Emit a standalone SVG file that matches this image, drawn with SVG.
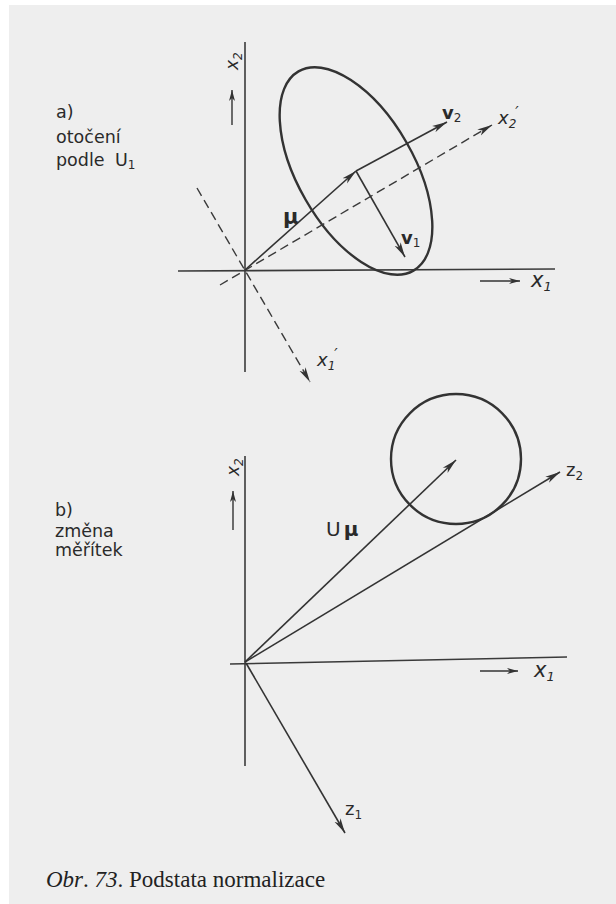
<svg xmlns="http://www.w3.org/2000/svg" width="616" height="904" viewBox="0 0 616 904">
<style>
.ax{stroke:#3a3a3a;stroke-width:1.6;fill:none}
.dash{stroke:#3a3a3a;stroke-width:1.4;fill:none;stroke-dasharray:9 5}
.vec{stroke:#333;stroke-width:1.6;fill:none;marker-end:url(#ah)}
.sm{stroke:#333;stroke-width:1.4;fill:none;marker-end:url(#sh)}
.curve{stroke:#333;stroke-width:2.4;fill:none}
.lbl{font-family:"DejaVu Sans","Liberation Sans",sans-serif;fill:#2a2a2a}
.t{font-size:17.5px}
.it{font-style:italic}
.cap{font-family:"Liberation Serif",serif;font-size:23px;fill:#222}
</style>
<defs>
<marker id="ah" markerUnits="userSpaceOnUse" markerWidth="16" markerHeight="8" refX="15" refY="4" orient="auto">
<path d="M0,0.5 L15,4 L0,7.5 L4,4 Z" fill="#333"/>
</marker>
<marker id="sh" markerUnits="userSpaceOnUse" markerWidth="12" markerHeight="7" refX="11" refY="3.5" orient="auto">
<path d="M0,0.5 L11,3.5 L0,6.5 L3,3.5 Z" fill="#333"/>
</marker>
</defs>
<rect width="616" height="904" fill="#ffffff"/>
<rect x="9" y="5" width="607" height="899" fill="#eeeeee"/>

<g id="panel-a">
  <g id="a-axes">
    <line class="ax" x1="245" y1="42" x2="245" y2="372"/>
    <line class="ax" x1="178" y1="271" x2="555" y2="269"/>
  </g>
  <g id="a-ellipse">
    <ellipse class="curve" cx="356" cy="171" rx="115" ry="58" transform="rotate(60 356 171)"/>
  </g>
  <g id="a-connectors">
    <line class="dash" x1="220" y1="285" x2="492" y2="125" marker-end="url(#ah)"/>
    <line class="dash" x1="197" y1="188" x2="310" y2="382" marker-end="url(#ah)"/>
    <line class="vec" x1="245" y1="270" x2="356" y2="171"/>
    <line class="vec" x1="356" y1="171" x2="447" y2="122"/>
    <line class="vec" x1="356" y1="171" x2="405" y2="257"/>
    <line class="sm" x1="232" y1="125" x2="232" y2="90"/>
    <line class="sm" x1="480" y1="281" x2="520" y2="281"/>
  </g>
  <g id="a-labels" class="lbl">
    <text class="t" x="56" y="118">a)</text>
    <text class="t" x="56" y="143">otočení</text>
    <text class="t" x="56" y="166">podle<tspan x="115">U</tspan><tspan font-size="12" dy="3">1</tspan></text>
    <text class="it" font-size="17" transform="translate(238 70) rotate(-90)">x<tspan font-size="12" dy="4">2</tspan></text>
    <text class="it" font-size="21" x="531" y="287">x<tspan font-size="13" dy="4">1</tspan></text>
    <text class="it" font-size="18" x="498" y="124">x<tspan font-size="12" dy="4">2</tspan><tspan font-size="15" dx="-1" dy="-10">′</tspan></text>
    <text class="it" font-size="18" x="317" y="366">x<tspan font-size="12" dy="4">1</tspan><tspan font-size="15" dx="-1" dy="-10">′</tspan></text>
    <text font-size="18" font-weight="bold" x="442" y="119">v<tspan font-size="12" font-weight="normal" dy="3">2</tspan></text>
    <text font-size="18" font-weight="bold" x="401" y="244">v<tspan font-size="12" font-weight="normal" dy="3">1</tspan></text>
    <text font-size="21" font-weight="bold" x="283" y="224">μ</text>
  </g>
</g>

<g id="panel-b">
  <g id="b-axes">
    <line class="ax" x1="245" y1="456" x2="245" y2="766"/>
    <line class="ax" x1="230" y1="664" x2="567" y2="657"/>
  </g>
  <g id="b-circle">
    <circle class="curve" cx="456" cy="459" r="65" stroke-width="2"/>
  </g>
  <g id="b-connectors">
    <line class="vec" x1="245" y1="662" x2="456" y2="460"/>
    <line class="vec" x1="245" y1="662" x2="560" y2="472"/>
    <line class="vec" x1="246" y1="663" x2="345" y2="833"/>
    <line class="sm" x1="233" y1="530" x2="233" y2="491"/>
    <line class="sm" x1="480" y1="671" x2="518" y2="671"/>
  </g>
  <g id="b-labels" class="lbl">
    <text class="t" x="55" y="516">b)</text>
    <text class="t" x="55" y="537">změna</text>
    <text class="t" x="55" y="556">měřítek</text>
    <text class="it" font-size="17" transform="translate(239 476) rotate(-90)">x<tspan font-size="12" dy="4">2</tspan></text>
    <text class="it" font-size="21" x="534" y="677">x<tspan font-size="13" dy="4">1</tspan></text>
    <text font-size="18" x="566" y="476">z<tspan font-size="12" dy="4">2</tspan></text>
    <text font-size="18" x="345" y="815">z<tspan font-size="12" dy="4">1</tspan></text>
    <text font-size="20" x="326" y="536">U<tspan font-weight="bold" dx="3">μ</tspan></text>
  </g>
</g>

<g id="caption">
  <text class="cap" x="46" y="887"><tspan font-style="italic">Obr</tspan>. <tspan font-style="italic">73</tspan>. Podstata normalizace</text>
</g>
</svg>
